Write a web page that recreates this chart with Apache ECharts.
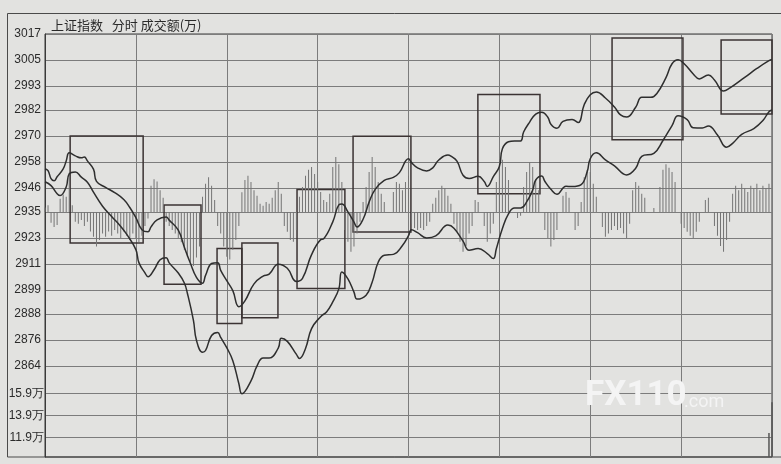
<!DOCTYPE html>
<html><head><meta charset="utf-8">
<script src="https://cdn.jsdelivr.net/npm/echarts@6/dist/echarts.min.js"></script>
<style>html,body{margin:0;padding:0;background:#e2e2e0}#c{width:781px;height:464px}</style>
</head><body><div id="c"></div><script>
// Tick labels
const priceTicks = [2864,2876,2888,2899,2911,2923,2935,2946,2958,2970,2982,2993,3005,3017];
const volTicks = [11.9,13.9,15.9];
const baseLevel = 2935;

// Line A (minutes, index)
const tA = [0,1,2,3,4,6,7,8,10,12,13,14,16,17,20,23,26,28,30,32,34,35,37,40,41,44,46,48,50,52,53,55,57,58,60,62,64,66,69,72,74,77,80,83,85,88,91,92,95,97,98,100,102,103,105,107,109,112,115,117,120,121,123,126,128,130,133,134,136,138,140,143,145,146,148,150,151,153,155,157,158,160,162,164,166,167,169,171,174,176,178,180,182,185,188,190,192,195,197,200,202,205,207,209,211,214,216,219,221,224,226,231,235,239,240];
const pA = [2954.9,2954.0,2950.3,2949.3,2951.2,2954.8,2958.5,2962.2,2960.8,2959.9,2960.3,2958.5,2954.7,2949.1,2946.3,2943.9,2940.7,2937.0,2932.3,2926.8,2925.8,2928.1,2931.3,2932.6,2931.2,2926.6,2918.7,2911.3,2904.8,2902.1,2905.7,2911.2,2911.6,2908.0,2903.3,2898.7,2891.3,2894.0,2901.8,2905.4,2906.3,2910.9,2909.0,2902.9,2904.3,2915.3,2922.2,2922.6,2930.4,2938.2,2938.6,2935.0,2930.3,2928.0,2931.6,2939.5,2945.4,2949.5,2950.9,2953.1,2959.5,2957.7,2955.3,2953.9,2955.3,2958.9,2961.2,2960.7,2958.4,2951.9,2950.4,2951.4,2949.0,2946.7,2951.3,2955.9,2964.1,2967.3,2967.7,2967.7,2971.8,2976.4,2980.1,2980.9,2978.6,2975.4,2973.5,2976.7,2977.6,2976.2,2984.4,2989.0,2990.3,2987.5,2983.3,2979.7,2978.7,2983.2,2987.8,2987.8,2989.6,2996.9,3003.3,3005.1,3003.3,2998.6,2996.3,2998.1,2995.8,2990.7,2992.0,2997.0,3001.1,3004.7,3005.2];

// Line B (minutes, index)
const tB = [0,2,4,5,7,8,10,12,14,16,19,22,25,27,30,31,33,34,36,38,40,41,44,46,47,49,50,52,53,55,57,58,60,62,64,65,68,70,72,74,77,78,80,83,84,86,88,91,93,95,97,98,100,102,103,106,108,110,112,115,118,120,121,123,126,129,133,135,138,140,143,146,148,149,151,153,155,157,159,161,162,164,165,167,169,172,174,177,179,180,182,185,188,192,195,197,201,204,207,209,212,214,217,219,222,225,227,230,234,237,239,240];
const pB = [2948.9,2947.1,2943.4,2942.5,2946.5,2952.5,2953.4,2951.0,2948.7,2944.1,2937.6,2932.9,2928.3,2924.6,2917.6,2911.6,2906.9,2905.1,2908.3,2912.9,2913.8,2911.5,2906.8,2902.2,2897.5,2885.0,2875.8,2870.3,2871.1,2878.0,2879.4,2877.1,2872.4,2866.4,2855.8,2851.2,2857.1,2864.0,2867.6,2867.6,2872.2,2876.8,2875.3,2869.3,2867.4,2872.0,2881.2,2886.7,2889.0,2893.5,2899.5,2907.3,2904.1,2898.0,2894.8,2896.6,2902.6,2911.8,2915.0,2915.4,2919.5,2924.0,2926.8,2925.4,2923.0,2923.9,2928.9,2927.5,2921.5,2917.3,2918.1,2915.8,2913.5,2918.0,2927.3,2934.1,2936.8,2936.8,2939.6,2945.1,2949.7,2951.5,2949.1,2945.4,2943.1,2946.8,2946.7,2947.6,2953.6,2959.5,2962.2,2959.0,2956.2,2952.0,2955.1,2960.6,2962.0,2967.9,2974.8,2979.3,2977.5,2973.8,2973.7,2974.6,2970.4,2964.8,2966.6,2970.7,2973.4,2977.1,2981.2,2982.0];

// Per-minute strength bars (t = 0..240), relative to base level
const barVals = [
 2,3,-5,-7,-6,6,8,7,18,3,
 -4.6,-5.5,-3.7,-6.5,-4.6,-9,-11.5,-16,-13,-10,
 -11.5,-9,-11,-8.3,-10,-12,-9,-11,-13,-10,
 -12,-14,-11,-6.5,-3,12,15,14,10,6.5,
 -4.6,-6.5,-8.3,-10,-12,-14,-17.5,-20.7,-23,-25,
 -21,-16,7,13,16,12,5.5,-6.5,-10,-16,
 -20.7,-22,-17.5,-13,-6.5,9,14.7,16.6,13.8,10,
 7.4,3.7,2.8,4.6,3.7,6.5,10,13.8,8.3,-6.5,
 -9.2,-13,-13.8,-8.3,7,11.5,16.6,19.4,20.7,17.5,
 13.8,9.2,5.5,4.6,8.3,20.7,25.3,22,13.8,-8.3,
 -13.8,-18.4,-16,-10,-4.6,4.6,11.5,18.4,25.3,20.7,
 13.8,8.3,4.6,0,0,9.2,13.8,13,10,13.8,
 16.6,-5.5,-7.4,-8.3,-7.4,-8.3,-6.5,-4.6,3.7,6.5,
 10,12,11,7.4,3.7,-5.5,-9.2,-13.8,-18.4,-15.7,
 -10,-6.5,5.5,4.6,0,-6.5,-13.8,-10,-5.5,13.8,
 22,24,20.7,14.7,0,0,-2.8,-1.8,11.5,18.4,
 23,20.7,14.7,10,0,-8.3,-12,-16,-13,-8.3,
 0,7.4,9.2,6.5,0,-8.3,-6.5,4.6,16,19.4,
 18.4,13,7,0,-7,-11.5,-10,-8.3,-6.5,-8.3,
 -7.4,-10,-12,-5.5,10,13.8,12,8.3,6.5,0,
 0,1.8,0,11.5,19.4,22,20.3,18.4,13.8,0,
 -5.5,-7.4,-9.2,-11,-12,-9.2,-4.6,0,5.5,6.5,
 0,-6.5,-11,-15.7,-18.4,-13,-4.6,8.3,12,10,
 13,11,9.2,12,11,13,10,12,11,13,
 0
];

// Turnover (万)
const volMinutes = [239,240];
const volValues = [12.3,15.1];

// Annotation boxes
const boxStart  = [8.3,39.3,56.8,65.0,83.2,101.7,142.9,187.2,223.2];
const boxEnd    = [32.4,51.5,65.0,76.9,99.0,120.8,163.4,210.6,240];
const boxTop    = [2970.0,2938.2,2918.1,2920.7,2945.3,2969.9,2989.1,3015.2,3014.2];
const boxBottom = [2920.7,2901.6,2883.5,2886.2,2899.7,2925.7,2943.4,2968.2,2980.1];

const lineAData = tA.map((t,i)=>[t,pA[i]]);
const lineBData = tB.map((t,i)=>[t,pB[i]]);
const barData = barVals.map((v,i)=>[i,v]);
const volData = volMinutes.map((t,i)=>[t,volValues[i]]);
const boxes = boxStart.map((s,i)=>[{xAxis:s,yAxis:boxTop[i]},{xAxis:boxEnd[i],yAxis:boxBottom[i]}]);

const priceMin = 2822, priceMax = 3017;
const chart = echarts.init(document.getElementById('c'), null, {renderer:'canvas'});
const gridLine = {show:true, lineStyle:{color:'#7c7c7c', width:1}};
chart.setOption({
  backgroundColor:'#e2e2e0',
  animation:false,
  title:{text:'上证指数   分时 成交额(万)', left:46, top:14,
    textStyle:{fontSize:13, fontWeight:'normal', color:'#2a2a2a', fontFamily:'Noto Sans CJK SC'}},
  grid:[
    {left:45, top:34, width:727, height:423, show:true, borderColor:'#3a3a3a', borderWidth:1, backgroundColor:'transparent'},
    {left:45, top:366, width:727, height:91}
  ],
  xAxis:[
    {type:'value', gridIndex:0, min:0, max:240, interval:30, axisLabel:{show:false}, axisTick:{show:false}, axisLine:{show:false}, splitLine:gridLine},
    {type:'value', gridIndex:1, min:0, max:240, show:false}
  ],
  yAxis:[
    {type:'value', gridIndex:0, min:priceMin, max:priceMax,
      axisTick:{show:false, customValues:priceTicks},
      axisLabel:{customValues:priceTicks, formatter:v=>String(v), color:'#2b2b2b', fontSize:12, fontFamily:'Liberation Sans', margin:4},
      axisLine:{show:true, lineStyle:{color:'#3a3a3a'}}, splitLine:gridLine},
    {type:'value', gridIndex:0, min:priceMin-baseLevel, max:priceMax-baseLevel, show:false},
    {type:'value', gridIndex:1, min:10.1, max:18.4,
      axisTick:{show:false, customValues:volTicks},
      axisLabel:{customValues:volTicks, formatter:v=>v.toFixed(1)+'万', color:'#2b2b2b', fontSize:12, fontFamily:'Liberation Sans', margin:1},
      axisLine:{show:false}, splitLine:gridLine}
  ],
  series:[
    {type:'bar', xAxisIndex:0, yAxisIndex:1, data:barData, barWidth:1, itemStyle:{color:'#747474'}, silent:true},
    {type:'bar', xAxisIndex:1, yAxisIndex:2, data:volData, barWidth:1.5, itemStyle:{color:'#555'}, silent:true},
    {type:'line', xAxisIndex:0, yAxisIndex:0, data:lineBData, smooth:0.45, symbol:'none',
      lineStyle:{color:'#2e2e2e', width:1.5}, silent:true},
    {type:'line', xAxisIndex:0, yAxisIndex:0, data:lineAData, smooth:0.45, symbol:'none',
      lineStyle:{color:'#2e2e2e', width:1.5}, silent:true,
      markArea:{silent:true, itemStyle:{color:'rgba(0,0,0,0)', borderColor:'#3b3333', borderWidth:1.5}, data:boxes}}
  ],
  graphic:[
    {type:'rect', silent:true, z:-10, shape:{x:7.5, y:13.5, width:800, height:443.5}, style:{fill:'none', stroke:'#4a4a4a', lineWidth:1}},
    {type:'text', silent:true, z:100, left:585, top:379, style:{text:'FX110', fontSize:35, fontWeight:'bold', fill:'#f4f4f4', fontFamily:'Roboto'}},
    {type:'text', silent:true, z:100, left:684, top:393, style:{text:'.com', fontSize:18, fill:'#f4f4f4', fontFamily:'Roboto'}}
  ]
});
</script></body></html>
